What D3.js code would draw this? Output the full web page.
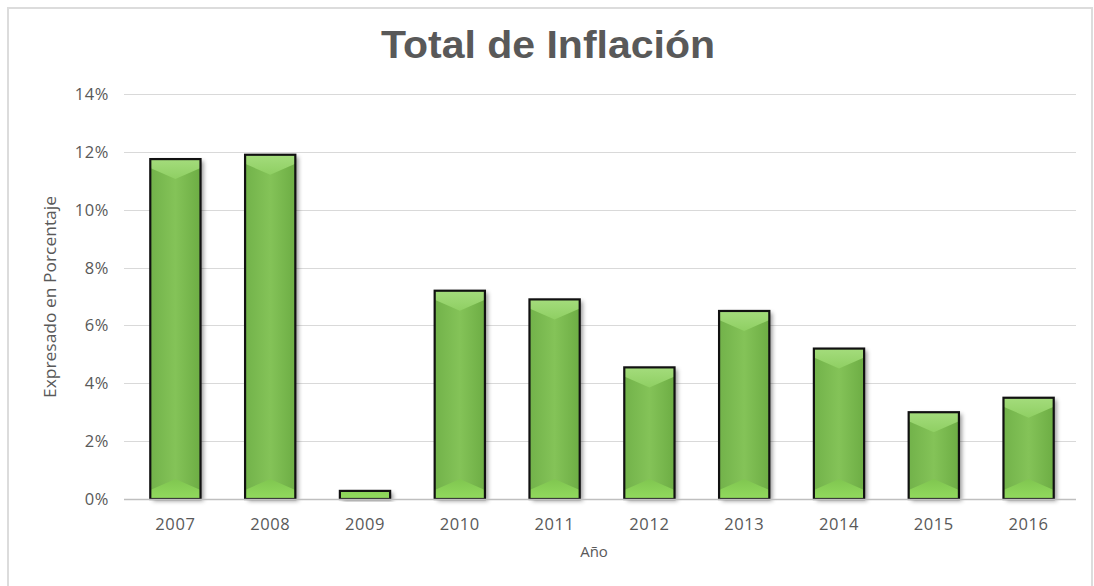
<!DOCTYPE html>
<html>
<head>
<meta charset="utf-8">
<script src="https://cdn.jsdelivr.net/npm/d3@7"></script>
<style>
  html, body { margin: 0; padding: 0; background: #fff; }
  svg { display: block; }
</style>
</head>
<body>
<svg id="chart" width="1094" height="586"></svg>
<script>
const categories = ["2007","2008","2009","2010","2011","2012","2013","2014","2015","2016"];
const values = [11.75, 11.9, 0.28, 7.2, 6.9, 4.55, 6.5, 5.2, 3.0, 3.5];
const yTicks = [0, 2, 4, 6, 8, 10, 12, 14];
const title = "Total de Inflación";
const yTitle = "Expresado en Porcentaje";
const xTitle = "Año";

const svg = d3.select("#chart");
const m = { left: 128, right: 1076, top: 94, bottom: 499 };

// frame
svg.append("rect").attr("x", 8).attr("y", 8).attr("width", 1084).attr("height", 620)
  .attr("fill", "#fff").attr("stroke", "#dcdcdc").attr("stroke-width", 2);

const x = d3.scaleBand().domain(categories).range([m.left, m.right]).paddingInner(0.47).paddingOuter(0.235);
const y = d3.scaleLinear().domain([0, 14]).range([m.bottom, m.top]);

const defs = svg.append("defs");
const f = defs.append("filter").attr("id", "sh").attr("x", "-20%").attr("y", "-20%").attr("width", "150%").attr("height", "150%");
f.append("feDropShadow").attr("dx", 3).attr("dy", 2).attr("stdDeviation", 2).attr("flood-color", "#000").attr("flood-opacity", 0.4);

const gBody = defs.append("linearGradient").attr("id", "gBody").attr("x1", 0).attr("x2", 1).attr("y1", 0).attr("y2", 0);
gBody.append("stop").attr("offset", "0%").attr("stop-color", "#72b24a");
gBody.append("stop").attr("offset", "50%").attr("stop-color", "#84c358");
gBody.append("stop").attr("offset", "100%").attr("stop-color", "#6dad44");
const gTop = defs.append("linearGradient").attr("id", "gTop").attr("x1", 0).attr("x2", 0).attr("y1", 0).attr("y2", 1);
gTop.append("stop").attr("offset", "0%").attr("stop-color", "#a4dc7c");
gTop.append("stop").attr("offset", "100%").attr("stop-color", "#8fcf63");
const gBot = defs.append("linearGradient").attr("id", "gBot").attr("x1", 0).attr("x2", 0).attr("y1", 0).attr("y2", 1);
gBot.append("stop").attr("offset", "0%").attr("stop-color", "#80c650");
gBot.append("stop").attr("offset", "100%").attr("stop-color", "#92da5e");

// gridlines
svg.append("g").selectAll("line").data(yTicks.filter(d => d > 0)).join("line")
  .attr("x1", m.left - 4).attr("x2", m.right)
  .attr("y1", d => Math.round(y(d)) + 0.5).attr("y2", d => Math.round(y(d)) + 0.5)
  .attr("stroke", "#d9d9d9").attr("stroke-width", 1);

// y tick labels
svg.append("g").selectAll("text").data(yTicks).join("text")
  .attr("x", 109).attr("y", d => y(d) + 6)
  .attr("text-anchor", "end")
  .attr("font-family", "'Open Sans', sans-serif").attr("font-size", 16.5)
  .attr("letter-spacing", 0.6)
  .attr("fill", "#595959")
  .text(d => d + "%");

// bars
const bw = x.bandwidth();
categories.forEach((c, i) => {
  const x0 = x(c), y0 = y(values[i]), h = m.bottom - y0;
  const clipId = "clip" + i;
  defs.append("clipPath").attr("id", clipId).append("rect")
    .attr("x", x0).attr("y", y0).attr("width", bw).attr("height", h);
  const g = svg.append("g");
  g.append("rect").attr("x", x0).attr("y", y0).attr("width", bw).attr("height", h)
    .attr("fill", "#78b84c").attr("filter", "url(#sh)");
  const gi = g.append("g").attr("clip-path", `url(#${clipId})`);
  gi.append("rect").attr("x", x0).attr("y", y0).attr("width", bw).attr("height", h).attr("fill", "url(#gBody)");
  const e = 9, cdep = 20;
  gi.append("polygon").attr("fill", "url(#gTop)")
    .attr("points", [[x0, y0], [x0 + bw, y0], [x0 + bw, y0 + e], [x0 + bw / 2, y0 + cdep], [x0, y0 + e]].map(p => p.join(",")).join(" "));
  gi.append("polygon").attr("fill", "url(#gBot)")
    .attr("points", [[x0, m.bottom], [x0 + bw, m.bottom], [x0 + bw, m.bottom - e], [x0 + bw / 2, m.bottom - cdep], [x0, m.bottom - e]].map(p => p.join(",")).join(" "));
  g.append("rect").attr("x", x0).attr("y", y0).attr("width", bw).attr("height", h)
    .attr("fill", "none").attr("stroke", "#111").attr("stroke-width", 2.2);
});

// baseline
svg.append("line").attr("x1", m.left - 4).attr("x2", m.right).attr("y1", m.bottom + 0.5).attr("y2", m.bottom + 0.5)
  .attr("stroke", "#bfbfbf").attr("stroke-width", 1.3);

// x labels
svg.append("g").selectAll("text").data(categories).join("text")
  .attr("x", d => x(d) + bw / 2).attr("y", 530)
  .attr("text-anchor", "middle")
  .attr("font-family", "'Open Sans', sans-serif").attr("font-size", 16.5)
  .attr("letter-spacing", 0.6)
  .attr("fill", "#595959")
  .text(d => d);

// titles
svg.append("text").attr("x", 548).attr("y", 58).attr("text-anchor", "middle")
  .attr("font-family", "'Liberation Sans', Arial, sans-serif").attr("font-weight", "bold")
  .attr("font-size", 38).attr("fill", "#595959")
  .attr("textLength", 334).attr("lengthAdjust", "spacingAndGlyphs")
  .text(title);

svg.append("text").attr("x", 594).attr("y", 557).attr("text-anchor", "middle")
  .attr("font-family", "'Open Sans', sans-serif").attr("font-size", 15)
  .attr("fill", "#595959").text(xTitle);

svg.append("text").attr("transform", "translate(56,297) rotate(-90)").attr("text-anchor", "middle")
  .attr("font-family", "'Open Sans', sans-serif").attr("font-size", 15.5)
  .attr("textLength", 202).attr("lengthAdjust", "spacingAndGlyphs")
  .attr("fill", "#595959").text(yTitle);
</script>
</body>
</html>
